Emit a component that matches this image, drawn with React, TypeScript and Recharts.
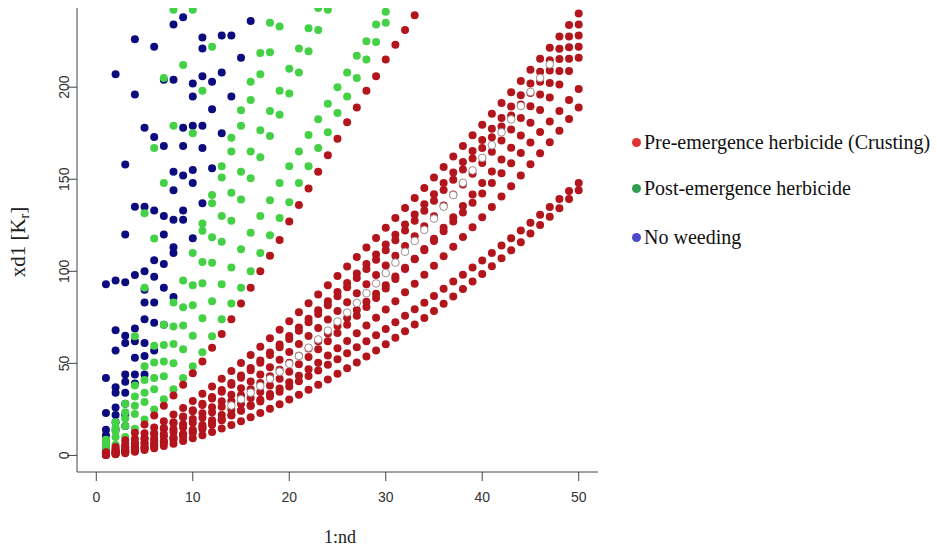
import React from 'react';
import { ScatterChart, Scatter, XAxis, YAxis } from 'recharts';

const xTicks = [0, 10, 20, 30, 40, 50];
const yTicks = [0, 50, 100, 150, 200];

// Pre-emergence herbicide (red): one value per nd = 1..50
const redA = [1.5,3.6,6.2,9.0,12.0,15.2,18.6,22.2,25.8,29.6,33.5,37.5,41.7,45.9,50.2,54.6,59.0,63.6,68.2,72.9,77.8,82.6,87.4,92.4,97.5,102.6,107.7,112.9,118.1,123.6,129.0,134.4,139.8,145.3,150.9,156.7,162.3,168.1,173.9,179.6,185.6,191.4,197.3,203.3,209.4,215.4,221.4,227.5,233.8,240];
const redB = [1.0,2.6,4.6,6.8,9.3,12.0,14.9,18.0,21.2,24.6,28.1,31.7,35.5,39.4,43.4,47.5,51.6,55.9,60.3,64.9,69.5,74.2,78.8,83.7,88.7,93.7,98.8,103.9,109.1,114.5,119.9,125.4,130.9,136.4,141.9,147.9,153.6,159.4,165.4,171.3,177.4,183.3,189.5,195.6,202.0,208.4,214.6,220.9,227.5,234];
const redC = [1.0,2.5,4.4,6.6,9.1,11.7,14.5,17.5,20.7,24.0,27.4,30.9,34.6,38.4,42.2,46.3,50.3,54.5,58.8,63.3,67.7,72.3,76.8,81.6,86.4,91.3,96.3,101.2,106.3,111.5,116.8,122.2,127.5,132.9,138.3,144.1,149.7,155.3,161.2,166.9,172.8,178.6,184.6,190.6,196.8,203.0,209.1,215.3,221.7,228];
const redD = [0.6,1.8,3.3,5.0,7.0,9.2,11.6,14.2,16.9,19.8,22.9,26.1,29.4,32.9,36.5,40.2,44.0,47.9,52.0,56.2,60.5,64.8,69.2,73.8,78.5,83.2,88.1,93.0,98.0,103.1,108.4,113.7,119.1,124.4,129.9,135.7,141.7,147.2,153.0,158.8,164.9,171.0,177.0,183.2,189.7,196.0,202.3,208.8,215.4,222];
const redE = [0.3,0.9,1.8,3.0,4.3,5.9,7.6,9.6,11.7,14.0,16.5,19.1,21.9,24.8,27.9,31.2,34.5,38.0,41.6,45.5,49.5,53.5,57.7,62.0,66.5,71.0,75.8,80.6,85.5,90.6,95.8,101.2,106.6,112.1,117.7,123.6,129.4,135.5,141.7,147.9,154.2,160.7,167.1,173.7,180.7,187.6,194.4,201.5,208.8,216];
const redF = [0.6,1.6,2.9,4.5,6.3,8.3,10.4,12.7,15.2,17.8,20.5,23.4,26.4,29.5,32.7,36.0,39.4,43.0,46.6,50.4,54.2,58.1,62.0,66.2,70.3,74.6,79.0,83.4,87.8,92.4,97.2,101.9,106.8,111.5,116.4,121.7,127.1,131.9,137.2,142.3,147.9,153.3,158.7,164.2,170.0,175.7,181.3,187.1,193.1,199];
const redG = [0.2,0.8,1.6,2.6,3.8,5.1,6.7,8.4,10.2,12.3,14.4,16.7,19.1,21.7,24.4,27.3,30.2,33.3,36.4,39.8,43.3,46.8,50.4,54.3,58.2,62.2,66.3,70.5,74.8,79.3,83.8,88.6,93.3,98.1,103.0,108.2,113.3,118.6,123.9,129.4,134.9,140.6,146.2,152.0,158.1,164.1,170.1,176.3,182.7,189];
const redLow1 = [0.4,1.2,2.2,3.3,4.7,6.2,7.8,9.5,11.3,13.2,15.3,17.4,19.6,21.9,24.3,26.8,29.3,32.0,34.6,37.5,40.3,43.2,46.1,49.2,52.3,55.5,58.7,62.0,65.3,68.7,72.3,75.8,79.4,82.9,86.6,90.5,94.5,98.1,102.0,105.9,110.0,114.0,118.0,122.1,126.4,130.7,134.9,139.2,143.6,148];
const redLow2 = [0.2,0.6,1.2,2.0,2.9,3.9,5.1,6.4,7.8,9.3,11.0,12.7,14.6,16.5,18.6,20.8,23.0,25.4,27.8,30.4,33.0,35.7,38.4,41.3,44.3,47.4,50.5,53.7,57.0,60.4,63.9,67.5,71.1,74.7,78.5,82.4,86.3,90.4,94.4,98.6,102.8,107.1,111.4,115.8,120.5,125.1,129.6,134.3,139.2,144];
// steep red row, nd = 1..33
const redSteep = [1.7,4.6,8.2,12.3,16.8,21.7,27,32.6,38.4,44.6,51,58.5,66,74,82.5,91,100,108.5,117,127,136,145,154,163,172,181,189,198,206,215,223,231,239];
// open circles, nd = 14..47
const openRow = [27.1,30.5,34.1,37.7,41.6,45.5,49.7,54.0,58.5,63.0,67.8,72.7,77.6,82.8,88.1,93.4,99.0,104.7,110.6,116.5,122.5,128.6,135.1,141.4,148.1,154.8,161.6,168.5,175.5,182.5,189.8,197.4,205.0,212.4];

// Post-emergence herbicide (green)
const green1 = [2.5,5.8,10,14.5,19.5,25,30.5,36,42,48.4,56,64.7,73.9,82.5,91,100,110,119.6,129,137.5,148,157,167,175.5,186,195,205,215,224.6,235];
const green2 = [4.5,10,16,22.5,29,36,43,50,57.6,65,74.5,83.7,93,102,112,121,130,138.6,148,157,165,174,182.6,191,200,208,217,225,234,241];
const green3 = [6,13,20,27,34,42,51,60.5,70.6,81.5,93.5,104.7,116,127.5,139,150.5,162,173.5,185,196.5,208,219.5,231,242];
const green4 = [7,15,23.5,32,41,50.5,60,70,80.5,92.4,105,118.5,130,142.6,154,165,176.6,187,198,210,221,232,243];
const green5 = [8.5,18,28,38,48.5,59.5,71,83,95,110,122,137,151,165,179,193,207,219,233];
const green5b = [126,141.5,157,172.6,187.5,203,218.6,235]; // nd = 11..18
const green6 = [175,198,222]; // nd = 10..12
const green7 = [64.7,91,117.8,148,179,212,242]; // nd = 4..10
const green8 = [131.5,167,205,242]; // nd = 5..8

// No weeding (blue): [nd, xd1]
const blueDots: [number, number][] = [
  [1,93],[1,42],[1,23],[1,14],[1,11],[1,8],[1,5],[1,3],
  [2,207],[2,95],[2,68],[2,57],[2,37],[2,34],[2,26],[2,22],[2,18],[2,14],
  [3,158],[3,120],[3,94],[3,65],[3,61],[3,44],[3,40],[3,34],[3,28],[3,22],[3,16],
  [4,226],[4,196],[4,135],[4,98],[4,69],[4,62],[4,53],[4,44],[4,39],
  [5,178],[5,135],[5,100],[5,90],[5,83],[5,74],[5,61],[5,54],[5,44],
  [6,222],[6,173],[6,133],[6,106],[6,97],[6,83],[6,72],[6,57],
  [7,204],[7,168],[7,130],[7,120],[7,104],[7,91],[7,71],
  [8,234],[8,204],[8,154],[8,144],[8,128],[8,113],[8,110],[8,86],
  [9,238],[9,178],[9,168],[9,152],[9,133],[9,128],
  [10,202],[10,195],[10,179],[10,155],[10,148],[10,118],
  [11,227],[11,221],[11,206],[11,179],[11,167],[11,137],
  [12,203],[12,188],[12,156],
  [13,228],[13,208],[13,175],
  [14,228],[14,195],
  [15,216],
  [16,236],
];

const legendItems = [
  { label: 'Pre-emergence herbicide (Crusting)', color: '#e03232' },
  { label: 'Post-emergence herbicide', color: '#2f9e52' },
  { label: 'No weeding', color: '#4a4ac8' },
];

const pts = (vals: number[], start = 1) => vals.map((y, i) => ({ x: start + i, y }));

const redData = [redA, redB, redC, redD, redE, redF, redG, redLow1, redLow2, redSteep].flatMap((v) => pts(v));
const openData = pts(openRow, 14);
const greenData = [
  ...pts(green1), ...pts(green2), ...pts(green3), ...pts(green4), ...pts(green5),
  ...pts(green5b, 11), ...pts(green6, 10), ...pts(green7, 4), ...pts(green8, 5),
];
const blueData = blueDots.map(([x, y]) => ({ x, y }));

const dot = (fill: string) => (p: any) => <circle cx={p.cx} cy={p.cy} r={4} fill={fill} />;
const openDot = (p: any) => <circle cx={p.cx} cy={p.cy} r={3.8} fill="#ffffff" stroke="#a08c8c" strokeWidth={1} />;

const sans = "'Liberation Sans', Arial, sans-serif";
const serif = "'Liberation Serif', 'Times New Roman', serif";

const XTick = (p: any) => (
  <text x={p.x} y={502} textAnchor="middle" fontFamily={sans} fontSize={14} fill="#333">{p.payload.value}</text>
);
const YTick = (p: any) => (
  <text x={69} y={p.y} transform={`rotate(-90 69 ${p.y})`} textAnchor="middle" fontFamily={sans} fontSize={14} fill="#333">{p.payload.value}</text>
);

export default function App() {
  return (
    <div style={{ position: 'absolute', left: 0, top: 0, width: 937, height: 547, background: '#fff' }}>
      <ScatterChart width={937} height={547} margin={{ top: 8, right: 339, bottom: 0, left: 0 }}>
        <XAxis
          type="number" dataKey="x" domain={[-2, 52]} ticks={xTicks} allowDataOverflow
          height={75} tickSize={9} stroke="#444" tick={<XTick />}
          label={{ content: () => <text x={340} y={543} textAnchor="middle" fontFamily={serif} fontSize={18} fill="#222">1:nd</text> }}
        />
        <YAxis
          type="number" dataKey="y" domain={[-9, 243]} ticks={yTicks} allowDataOverflow
          width={77} tickSize={10} stroke="#444" tick={<YTick />}
          label={{
            content: () => (
              <text x={25} y={242} transform="rotate(-90 25 242)" textAnchor="middle" fontFamily={serif} fontSize={21} fill="#222">
                xd1 [K<tspan dy={4} fontSize={14}>r</tspan><tspan dy={-4}>]</tspan>
              </text>
            ),
          }}
        />
        <Scatter data={blueData} shape={dot('#0c0c7e')} isAnimationActive={false} />
        <Scatter data={greenData} shape={dot('#45d145')} isAnimationActive={false} />
        <Scatter data={redData} shape={dot('#b3151d')} isAnimationActive={false} />
        <Scatter data={openData} shape={openDot} isAnimationActive={false} />
      </ScatterChart>
      {legendItems.map((item, i) => (
        <div
          key={item.label}
          style={{ position: 'absolute', left: 632, top: [131, 177, 226][i], display: 'flex', alignItems: 'center', fontFamily: serif, fontSize: 20, color: '#111', whiteSpace: 'nowrap' }}
        >
          <span style={{ width: 9, height: 9, borderRadius: '50%', background: item.color, marginRight: 3, display: 'inline-block' }} />
          {item.label}
        </div>
      ))}
    </div>
  );
}
